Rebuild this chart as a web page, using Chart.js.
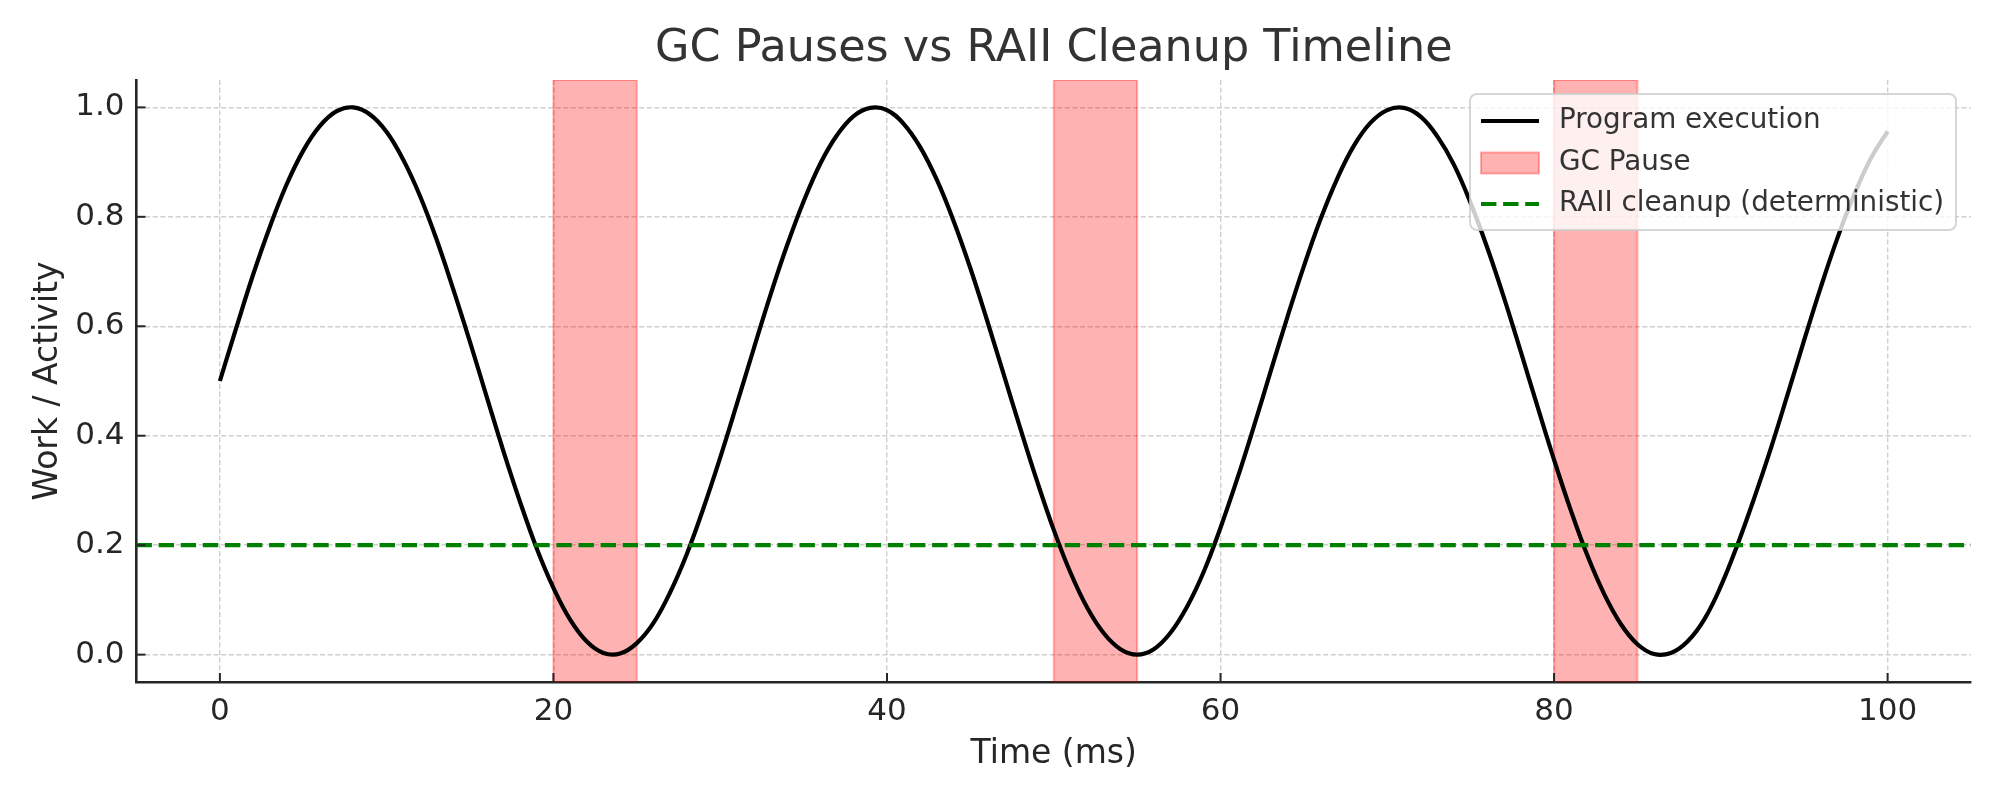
<!DOCTYPE html>
<html>
<head>
<meta charset="utf-8">
<title>GC Pauses vs RAII Cleanup Timeline</title>
<script src="https://cdn.jsdelivr.net/npm/chart.js@4.4.1/dist/chart.umd.min.js"></script>
<style>
  html, body { margin: 0; padding: 0; background: #ffffff; }
  #wrap { width: 2000px; height: 800px; }
</style>
</head>
<body>
<div id="wrap"><canvas id="c" width="2000" height="800"></canvas></div>
<script>
// ---- data ----
const times = [0,1,2,3,4,5,6,7,8,9,10,11,12,13,14,15,16,17,18,19,20,21,22,23,24,25,26,27,28,29,30,31,32,33,34,35,36,37,38,39,40,41,42,43,44,45,46,47,48,49,50,51,52,53,54,55,56,57,58,59,60,61,62,63,64,65,66,67,68,69,70,71,72,73,74,75,76,77,78,79,80,81,82,83,84,85,86,87,88,89,90,91,92,93,94,95,96,97,98,99,100];
const activity = [0.500,0.599,0.695,0.782,0.859,0.921,0.966,0.993,1.000,0.987,
  0.955,0.904,0.838,0.758,0.667,0.571,0.471,0.372,0.279,0.194,
  0.122,0.064,0.024,0.003,0.002,0.021,0.058,0.114,0.184,0.268,
  0.360,0.458,0.558,0.656,0.747,0.828,0.897,0.949,0.984,0.999,
  0.995,0.970,0.927,0.867,0.792,0.706,0.611,0.512,0.413,0.317,
  0.228,0.150,0.086,0.039,0.010,0.000,0.010,0.040,0.088,0.152,
  0.232,0.321,0.417,0.517,0.616,0.710,0.796,0.870,0.930,0.972,
  0.995,0.999,0.983,0.947,0.895,0.825,0.743,0.652,0.554,0.454,
  0.356,0.264,0.181,0.111,0.056,0.019,0.001,0.003,0.024,0.064,
  0.125,0.201,0.286,0.377,0.475,0.575,0.672,0.762,0.841,0.907,
  0.956];
const gcStarts = [20, 50, 80];
const gcEnds = [25, 55, 85];
const cleanupLevel = 0.2;
const xTickValues = [0, 20, 40, 60, 80, 100];
const yTickValues = [0.0, 0.2, 0.4, 0.6, 0.8, 1.0];
const xMin = -5, xMax = 105, yMin = -0.05, yMax = 1.05;

const labels = ['Program execution', 'GC Pause', 'RAII cleanup (deterministic)'];

// ---- build datasets from the arrays ----
const programData = times.map((t, i) => ({ x: t, y: activity[i] }));
const gcData = [];
gcStarts.forEach((s, i) => {
  const e = gcEnds[i];
  gcData.push({ x: s, y: yMin }, { x: s, y: yMax }, { x: e, y: yMax }, { x: e, y: yMin }, { x: e, y: null });
});
const cleanupData = [{ x: xMin, y: cleanupLevel }, { x: xMax, y: cleanupLevel }];

const FONT = "'DejaVu Sans', 'Liberation Sans', sans-serif";
const SPAN_COLOR = 'rgba(255,0,0,0.3)';

// inward tick marks (matplotlib style "direction: in")
const inwardTicks = {
  id: 'inwardTicks',
  afterDatasetsDraw(chart) {
    const ctx = chart.ctx, a = chart.chartArea;
    const xs = chart.scales.x, ys = chart.scales.y;
    ctx.save();
    ctx.strokeStyle = '#262626';
    ctx.lineWidth = 2;
    xs.ticks.forEach(t => {
      const px = xs.getPixelForValue(t.value);
      ctx.beginPath(); ctx.moveTo(px, a.bottom); ctx.lineTo(px, a.bottom - 9); ctx.stroke();
    });
    ys.ticks.forEach(t => {
      const py = ys.getPixelForValue(t.value);
      ctx.beginPath(); ctx.moveTo(a.left, py); ctx.lineTo(a.left + 9, py); ctx.stroke();
    });
    ctx.restore();
  }
};

// matplotlib-like legend box (semi-transparent, rounded) drawn inside the plot
const boxLegend = {
  id: 'boxLegend',
  afterDraw(chart) {
    const ctx = chart.ctx, a = chart.chartArea;
    const right = a.right - 15, top = a.top + 14;
    const w = 486, h = 136, left = right - w;
    ctx.save();
    ctx.beginPath();
    ctx.roundRect(left, top, w, h, 7);
    ctx.fillStyle = 'rgba(255,255,255,0.8)';
    ctx.fill();
    ctx.lineWidth = 2;
    ctx.strokeStyle = 'rgba(204,204,204,0.8)';
    ctx.stroke();
    const rowY = [top + 27, top + 69, top + 110];
    const hx0 = left + 11, hx1 = left + 69, tx = left + 89;
    chart.data.datasets.forEach((ds, i) => {
      const y = rowY[i];
      if (ds.legendKind === 'patch') {
        ctx.fillStyle = ds.backgroundColor;
        ctx.fillRect(hx0, y - 10.5, hx1 - hx0, 21);
        ctx.strokeStyle = ds.borderColor;
        ctx.lineWidth = 2;
        ctx.strokeRect(hx0, y - 10.5, hx1 - hx0, 21);
      } else {
        ctx.beginPath();
        ctx.setLineDash(ds.borderDash || []);
        ctx.strokeStyle = ds.borderColor;
        ctx.lineWidth = ds.borderWidth;
        ctx.moveTo(hx0, y); ctx.lineTo(hx1, y); ctx.stroke();
        ctx.setLineDash([]);
      }
      ctx.fillStyle = '#333333';
      ctx.font = '27.8px ' + FONT;
      ctx.textBaseline = 'middle';
      ctx.textAlign = 'left';
      ctx.fillText(ds.label, tx, y);
    });
    ctx.restore();
  }
};

new Chart(document.getElementById('c'), {
  type: 'line',
  data: {
    datasets: [
      {
        label: labels[0], data: programData, order: 2,
        borderColor: '#000000', borderWidth: 4.2, pointRadius: 0,
        tension: 0.4, fill: false, legendKind: 'line'
      },
      {
        label: labels[1], data: gcData, order: 3,
        borderColor: SPAN_COLOR, backgroundColor: SPAN_COLOR, borderWidth: 2,
        pointRadius: 0, tension: 0, spanGaps: false, fill: 'start', legendKind: 'patch'
      },
      {
        label: labels[2], data: cleanupData, order: 1,
        borderColor: '#008000', borderWidth: 4.2, borderDash: [15.4, 6.7],
        pointRadius: 0, fill: false, legendKind: 'line'
      }
    ]
  },
  options: {
    responsive: false,
    devicePixelRatio: 1,
    animation: false,
    events: [],
    layout: { padding: { left: 0, right: 29, top: 0, bottom: 0 } },
    plugins: {
      legend: { display: false },
      tooltip: { enabled: false },
      title: {
        display: true,
        fullSize: false,
        text: 'GC Pauses vs RAII Cleanup Timeline',
        color: '#333333',
        font: { family: FONT, size: 44.5, weight: 'normal' },
        padding: { top: 23, bottom: 3.6 }
      }
    },
    scales: {
      x: {
        type: 'linear', min: xMin, max: xMax,
        afterFit(s) { s.height = 118; },
        afterBuildTicks(s) { s.ticks = xTickValues.map(v => ({ value: v })); },
        ticks: {
          includeBounds: false, padding: 11, color: '#262626',
          font: { family: FONT, size: 31 },
          callback: v => String(v)
        },
        grid: { drawTicks: false, color: '#cfcfcf', lineWidth: 1.4 },
        border: { display: true, color: '#262626', width: 2.6, dash: [5, 2.6] },
        title: {
          display: true, text: 'Time (ms)', color: '#262626',
          font: { family: FONT, size: 33 }, padding: { top: 0, bottom: 26 }
        }
      },
      y: {
        type: 'linear', min: yMin, max: yMax,
        afterFit(s) { s.width = 136.5; },
        afterBuildTicks(s) { s.ticks = yTickValues.map(v => ({ value: v })); },
        ticks: {
          includeBounds: false, padding: 12, color: '#262626',
          font: { family: FONT, size: 31 },
          callback: v => Number(v).toFixed(1)
        },
        grid: { drawTicks: false, color: '#cfcfcf', lineWidth: 1.4 },
        border: { display: true, color: '#262626', width: 2.6, dash: [5, 2.6] },
        title: {
          display: true, text: 'Work / Activity', color: '#262626',
          font: { family: FONT, size: 33 }, padding: { top: 28.5, bottom: 0 }
        }
      }
    }
  },
  plugins: [inwardTicks, boxLegend]
});
</script>
</body>
</html>
